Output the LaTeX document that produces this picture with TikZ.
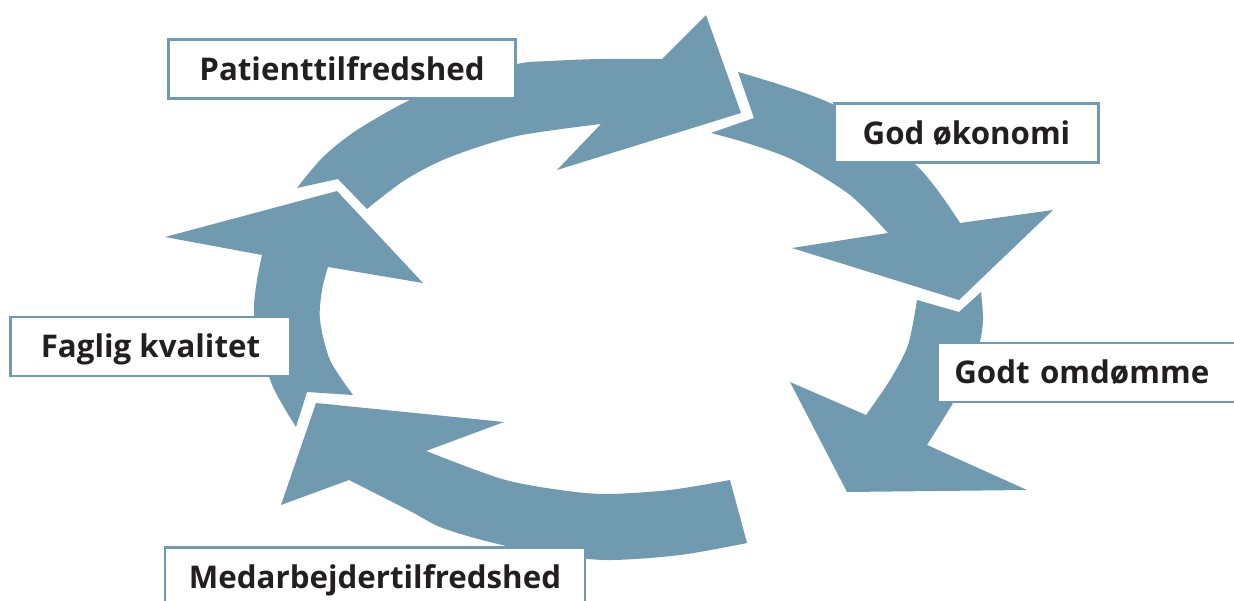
\documentclass[tikz,border=0pt]{standalone}
\usepackage{fontspec}
\setmainfont{Open Sans}
\definecolor{pilblaa}{RGB}{111,154,176}
\definecolor{tekst}{RGB}{35,31,32}
\begin{document}
\begin{tikzpicture}[x=0.02cm,y=-0.02cm,
  pil/.style={fill=pilblaa},
  boks/.style={draw=pilblaa,line width=1.5pt,fill=white,text=tekst,font=\bfseries\fontsize{17.8}{22}\selectfont,
    minimum height=1.18cm,text height=12.7pt,text depth=0pt,inner sep=0pt}]
\useasboundingbox(0,0)rectangle(1234,601);
%
\fill[pil](297,188)--(338,179)--(367,209)--plot[smooth]coordinates{(367,209)(405,180)(450,157)(517,136)(601,124)}
  --(557,170)--(741,113)--(706,15)--(662,59)--plot[smooth]coordinates{(662,59)(600,59)(550,61)(517,64)(460,82)(410,100)(357,130)(323,157)(297,188)}--cycle;
\fill[pil](738,72)--plot[smooth]coordinates{(738,72)(834,105)(917,166)(960,223)}
  --(1053,210)--(959,300)--(792,248)--(888,233)--plot[smooth]coordinates{(888,233)(850,195)(795,161)(750,144)(711,133)}--(754,118)--cycle;
\fill[pil](981,292)--plot[smooth]coordinates{(981,292)(983,320)(979,345)(965,380)(953,403)(927,445)}
  --(1027,490)--(847,492)--(790,382)--(866,415)--plot[smooth]coordinates{(866,415)(890,380)(908,345)(917,300)}--(959,312)--cycle;
\fill[pil](747,543)--plot[smooth]coordinates{(747,543)(680,555)(606,560)(540,553)(482,540)(440,527)(410,511)(349,480)}
  --(281,505)--(316,403)--(504,422)--(426,451)--plot[smooth]coordinates{(426,451)(502,479)(560,490)(606,494)(670,490)(730,480)}--cycle;
\fill[pil](296,427)--plot[smooth]coordinates{(296,427)(273,387)(257,337)(254,307)(257,280)(262,255)}
  --(165,237)--(337,191)--(423,283)--(328,267)--plot[smooth]coordinates{(328,267)(322,290)(320,320)(330,360)(353,395)}--(307,392)--cycle;
%
\node[boks,minimum width=6.95cm](patient)at(342,69){Patienttilfredshed};
\node[boks,minimum width=5.27cm](okonomi)at(966.5,133){God økonomi};
\node[boks,anchor=west,minimum width=6.6cm,text width=5.92cm,inner xsep=0.34cm,align=left](omdomme)at(936,372.5){Godt omdømme};
\node[boks,minimum width=5.6cm](faglig)at(150.5,346.5){Faglig kvalitet};
\node[boks,minimum width=8.4cm](medarb)at(375,577){Medarbejdertilfredshed};
\end{tikzpicture}
\end{document}
